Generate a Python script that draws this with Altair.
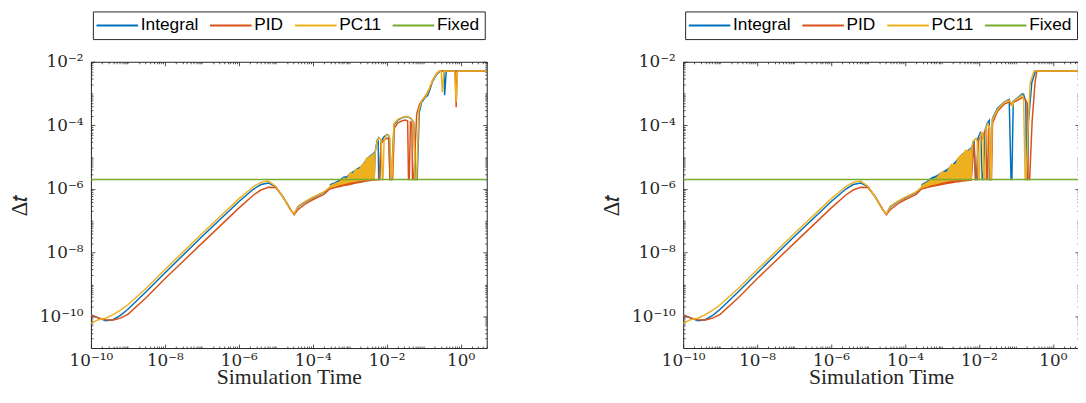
import altair as alt
import pandas as pd

SERIES = ["Integral", "PID", "PC11", "Fixed"]
COLORS = ["#0072BD", "#D95319", "#EDB120", "#77AC30"]

# ---- shared early part of the curves (both panels) ----
EARLY_T = [1e-10, 1.58e-10, 2.51e-10, 3.98e-10, 6.31e-10, 1e-9, 3.16e-9, 1e-8, 1e-7, 1e-6,
           2.51e-6, 3.98e-6, 6.31e-6, 1e-5, 1.58e-5, 2.51e-5, 3.16e-5, 3.98e-5, 6.31e-5, 1e-4, 2.0e-4]
EARLY_INTEGRAL = [1.12e-10, 8.9e-11, 7.2e-11, 7.8e-11, 1.07e-10, 1.66e-10, 6.0e-10, 2.3e-9, 3.16e-8, 3.98e-7,
                  1.0e-6, 1.38e-6, 1.55e-6, 1.17e-6, 5.6e-7, 2.24e-7, 1.62e-7, 2.75e-7, 3.98e-7, 5.25e-7, 7.8e-7]
EARLY_PID = [1.07e-10, 8.9e-11, 7.8e-11, 7.6e-11, 8.7e-11, 1.15e-10, 3.9e-10, 1.51e-9, 1.95e-8, 2.5e-7,
             6.5e-7, 9.3e-7, 1.13e-6, 1.12e-6, 5.6e-7, 2.24e-7, 1.55e-7, 2.24e-7, 3.4e-7, 4.6e-7, 6.8e-7]
EARLY_PC11 = [6.0e-11, 7.8e-11, 8.7e-11, 1.12e-10, 1.55e-10, 2.3e-10, 7.6e-10, 2.9e-9, 3.9e-8, 4.9e-7,
              1.2e-6, 1.62e-6, 1.78e-6, 1.22e-6, 5.6e-7, 2.14e-7, 1.66e-7, 2.88e-7, 4.1e-7, 5.5e-7, 8.1e-7]

# ---- left panel, late part ----
L_INTEGRAL_T = [2.9e-4, 4.0e-4, 5.4e-4, 6.9e-4, 1.0e-3, 1.45e-3, 2.09e-3, 2.8e-3, 4.6e-3, 4.9e-3, 5.5e-3, 5.9e-3,
                6.1e-3, 6.5e-3, 7.1e-3, 8.5e-3, 1.02e-2, 1.15e-2, 1.23e-2, 1.35e-2, 1.58e-2, 2.0e-2, 2.75e-2,
                3.5e-2, 4.5e-2, 5.4e-2, 6.1e-2, 6.7e-2, 7.6e-2, 8.9e-2, 0.112, 0.129, 0.145, 0.174, 0.224,
                0.28, 0.355, 0.37, 0.41, 5.1]
L_INTEGRAL_DT = [1.10e-6, 1.20e-6, 1.32e-6, 1.43e-6, 1.55e-6, 1.70e-6, 1.82e-6, 1.95e-6, 2.04e-6, 1.51e-5, 3.3e-5,
                 3.8e-5, 2.0e-6, 2.0e-6, 3.3e-5, 4.4e-5, 5.1e-5, 4.7e-5, 2.0e-6, 2.0e-6, 1.05e-4, 1.48e-4, 1.78e-4,
                 1.91e-4, 1.66e-4, 1.23e-4, 2.0e-6, 2.0e-6, 2.6e-4, 5.4e-4, 7.6e-4, 8.9e-4, 1.26e-3, 2.4e-3, 4.0e-3,
                 5.1e-3, 5.1e-3, 8.9e-4, 5.1e-3, 5.1e-3]
L_PID_T = [2.9e-4, 4.0e-4, 5.4e-4, 6.9e-4, 1.0e-3, 1.45e-3, 2.09e-3, 2.8e-3, 4.6e-3, 6.3e-3, 7.1e-3, 8.5e-3,
           1.02e-2, 1.15e-2, 1.23e-2, 1.45e-2, 1.62e-2, 2.0e-2, 2.75e-2, 3.3e-2, 3.7e-2, 3.9e-2, 4.1e-2, 4.4e-2,
           4.8e-2, 5.0e-2, 5.4e-2, 6.5e-2, 7.8e-2, 0.10, 0.12, 0.145, 0.174, 0.224, 0.27, 0.71, 0.76, 0.81, 5.1]
L_PID_DT = [1.0e-6, 1.12e-6, 1.20e-6, 1.29e-6, 1.38e-6, 1.55e-6, 1.66e-6, 1.78e-6, 1.91e-6, 1.97e-6, 2.7e-5, 3.5e-5,
            4.0e-5, 3.5e-5, 2.0e-6, 2.0e-6, 8.3e-5, 1.20e-4, 1.43e-4, 1.48e-4, 1.38e-4, 2.0e-6, 2.0e-6, 1.29e-4,
            1.20e-4, 2.0e-6, 2.0e-6, 2.3e-4, 4.7e-4, 7.1e-4, 9.5e-4, 1.45e-3, 2.57e-3, 4.3e-3, 5.1e-3, 5.1e-3,
            3.7e-4, 5.1e-3, 5.1e-3]
L_PC11_T = [2.9e-4, 4.0e-4, 5.4e-4, 6.9e-4, 1.0e-3, 1.45e-3, 2.09e-3, 2.8e-3, 4.6e-3, 4.9e-3, 5.5e-3, 6.3e-3,
            7.1e-3, 7.6e-3, 8.0e-3, 8.5e-3, 9.6e-3, 1.10e-2, 1.23e-2, 1.32e-2, 1.38e-2, 1.58e-2, 2.0e-2, 2.75e-2,
            3.5e-2, 4.5e-2, 5.4e-2, 5.9e-2, 6.5e-2, 7.4e-2, 8.9e-2, 0.112, 0.135, 0.174, 0.224, 0.27, 0.30, 0.32,
            0.355, 0.69, 0.76, 0.83, 5.1]
L_PC11_DT = [1.12e-6, 1.23e-6, 1.38e-6, 1.48e-6, 1.66e-6, 1.78e-6, 1.91e-6, 2.0e-6, 2.0e-6, 1.41e-5, 3.1e-5, 4.1e-5,
             3.5e-5, 2.0e-6, 2.0e-6, 3.1e-5, 4.7e-5, 5.1e-5, 4.1e-5, 2.0e-6, 2.0e-6, 1.12e-4, 1.55e-4, 1.82e-4,
             1.95e-4, 1.70e-4, 1.29e-4, 2.0e-6, 2.0e-6, 3.0e-4, 6.2e-4, 7.9e-4, 1.26e-3, 2.57e-3, 4.3e-3, 5.1e-3,
             5.1e-3, 1.1e-3, 5.1e-3, 5.1e-3, 5.4e-4, 5.1e-3, 5.1e-3]

# dense oscillation band (envelopes), left panel
L_BAND_T = [2.9e-4, 4.0e-4, 5.4e-4, 6.9e-4, 8.3e-4, 1.0e-3, 1.2e-3, 1.45e-3, 1.74e-3, 2.09e-3, 2.5e-3, 2.8e-3,
            3.4e-3, 4.1e-3, 4.6e-3]
L_INTEGRAL_LO = [1.10e-6, 1.20e-6, 1.32e-6, 1.43e-6, 1.48e-6, 1.55e-6, 1.66e-6, 1.70e-6, 1.78e-6, 1.82e-6, 1.91e-6,
                 1.95e-6, 1.97e-6, 2.0e-6, 2.04e-6]
L_INTEGRAL_HI = [1.43e-6, 1.66e-6, 2.04e-6, 2.51e-6, 2.51e-6, 3.16e-6, 3.6e-6, 4.2e-6, 4.8e-6, 5.5e-6, 7.4e-6,
                 9.1e-6, 1.12e-5, 1.32e-5, 1.51e-5]
L_PID_LO = [1.0e-6, 1.12e-6, 1.20e-6, 1.29e-6, 1.32e-6, 1.38e-6, 1.43e-6, 1.55e-6, 1.58e-6, 1.66e-6, 1.70e-6,
            1.78e-6, 1.82e-6, 1.91e-6, 1.91e-6]
L_PID_HI = [1.15e-6, 1.32e-6, 1.66e-6, 1.91e-6, 2.04e-6, 2.51e-6, 2.7e-6, 3.4e-6, 3.6e-6, 4.5e-6, 5.5e-6, 6.9e-6,
            8.5e-6, 9.8e-6, 1.05e-5]
L_PC11_LO = [1.12e-6, 1.23e-6, 1.38e-6, 1.48e-6, 1.55e-6, 1.66e-6, 1.70e-6, 1.78e-6, 1.82e-6, 1.91e-6, 1.97e-6,
             2.0e-6, 2.0e-6, 2.0e-6, 2.0e-6]
L_PC11_HI = [1.32e-6, 1.55e-6, 1.78e-6, 2.34e-6, 2.19e-6, 3.4e-6, 3.16e-6, 4.5e-6, 4.2e-6, 6.0e-6, 6.9e-6, 9.8e-6,
             1.05e-5, 1.23e-5, 1.41e-5]

# ---- right panel, late part ----
R_INTEGRAL_T = [2.8e-4, 3.9e-4, 5.2e-4, 7.1e-4, 9.8e-4, 1.32e-3, 1.78e-3, 2.29e-3, 2.75e-3, 3.5e-3, 6.2e-3, 6.5e-3,
                7.4e-3, 8.1e-3, 8.9e-3, 9.3e-3, 1.12e-2, 1.23e-2, 1.32e-2, 1.48e-2, 1.70e-2, 1.91e-2, 1.95e-2,
                2.09e-2, 2.34e-2, 3.2e-2, 4.9e-2, 6.6e-2, 7.4e-2, 7.8e-2, 8.5e-2, 0.123, 0.148, 0.162, 0.186,
                0.195, 0.204, 0.219, 0.27, 0.34, 5.1]
R_INTEGRAL_DT = [1.10e-6, 1.20e-6, 1.32e-6, 1.43e-6, 1.55e-6, 1.66e-6, 1.78e-6, 1.82e-6, 1.91e-6, 1.97e-6, 2.0e-6,
                 2.1e-5, 3.5e-5, 2.0e-6, 2.0e-6, 3.8e-5, 6.3e-5, 2.0e-6, 2.0e-6, 7.2e-5, 1.20e-4, 1.43e-4, 2.0e-6,
                 2.0e-6, 1.70e-4, 3.5e-4, 5.5e-4, 6.6e-4, 2.0e-6, 2.0e-6, 5.8e-4, 8.1e-4, 9.8e-4, 9.5e-4, 5.4e-4,
                 2.0e-6, 2.0e-6, 1.29e-4, 2.24e-3, 5.1e-3, 5.1e-3]
R_PID_T = [2.8e-4, 3.9e-4, 5.2e-4, 7.1e-4, 9.8e-4, 1.32e-3, 1.78e-3, 2.29e-3, 2.75e-3, 3.5e-3, 4.3e-3, 6.2e-3,
           7.4e-3, 8.1e-3, 8.5e-3, 9.8e-3, 1.12e-2, 1.29e-2, 1.41e-2, 1.55e-2, 1.62e-2, 1.72e-2, 1.82e-2, 1.95e-2,
           2.05e-2, 2.19e-2, 2.34e-2, 3.2e-2, 4.9e-2, 6.6e-2, 7.6e-2, 8.9e-2, 0.123, 0.148, 0.178, 0.204, 0.214,
           0.236, 0.275, 0.33, 0.37, 5.1]
R_PID_DT = [1.0e-6, 1.12e-6, 1.20e-6, 1.29e-6, 1.38e-6, 1.48e-6, 1.58e-6, 1.66e-6, 1.70e-6, 1.78e-6, 1.82e-6, 1.91e-6,
            2.7e-5, 2.0e-6, 2.0e-6, 3.3e-5, 4.4e-5, 3.8e-5, 6.3e-5, 7.2e-5, 2.0e-6, 2.0e-6, 7.8e-5, 8.3e-5, 2.0e-6,
            2.0e-6, 1.20e-4, 2.8e-4, 4.7e-4, 5.5e-4, 4.4e-4, 5.4e-4, 6.6e-4, 7.6e-4, 6.6e-4, 5.0e-4, 2.0e-6,
            2.0e-6, 1.29e-4, 2.24e-3, 5.1e-3, 5.1e-3]
R_PC11_T = [2.8e-4, 3.9e-4, 5.2e-4, 7.1e-4, 9.8e-4, 1.32e-3, 1.78e-3, 2.29e-3, 2.75e-3, 6.2e-3, 6.5e-3, 6.9e-3,
            8.3e-3, 9.1e-3, 9.8e-3, 1.03e-2, 1.10e-2, 1.20e-2, 1.29e-2, 1.35e-2, 1.45e-2, 1.55e-2, 1.74e-2, 1.91e-2,
            2.04e-2, 2.14e-2, 2.29e-2, 3.2e-2, 4.9e-2, 6.6e-2, 7.6e-2, 8.1e-2, 8.9e-2, 0.123, 0.148, 0.162, 0.178,
            0.19, 0.214, 0.245, 0.31, 5.1]
R_PC11_DT = [1.12e-6, 1.23e-6, 1.38e-6, 1.48e-6, 1.66e-6, 1.78e-6, 1.91e-6, 1.97e-6, 2.0e-6, 2.0e-6, 2.0e-5, 3.1e-5,
             3.9e-5, 3.1e-5, 2.0e-6, 2.0e-6, 5.1e-5, 5.9e-5, 4.7e-5, 2.0e-6, 2.0e-6, 8.3e-5, 1.12e-4, 9.5e-5,
             2.0e-6, 2.0e-6, 1.48e-4, 3.2e-4, 5.4e-4, 6.2e-4, 5.0e-4, 4.0e-4, 6.0e-4, 7.6e-4, 8.9e-4, 7.1e-4,
             2.0e-6, 2.0e-6, 8.9e-5, 2.24e-3, 5.1e-3, 5.1e-3]

R_BAND_T = [2.8e-4, 3.9e-4, 5.2e-4, 7.1e-4, 9.8e-4, 1.32e-3, 1.78e-3, 2.29e-3, 2.75e-3, 3.5e-3, 4.3e-3, 5.1e-3, 6.2e-3]
R_INTEGRAL_LO = [1.10e-6, 1.20e-6, 1.32e-6, 1.43e-6, 1.55e-6, 1.66e-6, 1.78e-6, 1.82e-6, 1.91e-6, 1.97e-6, 2.0e-6,
                 2.0e-6, 2.0e-6]
R_INTEGRAL_HI = [1.43e-6, 1.78e-6, 2.34e-6, 2.7e-6, 3.4e-6, 4.2e-6, 5.5e-6, 7.4e-6, 9.8e-6, 1.32e-5, 1.51e-5,
                 1.74e-5, 2.1e-5]
R_PID_LO = [1.0e-6, 1.12e-6, 1.20e-6, 1.29e-6, 1.38e-6, 1.48e-6, 1.58e-6, 1.66e-6, 1.70e-6, 1.78e-6, 1.82e-6,
            1.91e-6, 1.91e-6]
R_PID_HI = [1.15e-6, 1.43e-6, 1.78e-6, 2.04e-6, 2.7e-6, 2.92e-6, 4.5e-6, 4.8e-6, 7.4e-6, 9.1e-6, 1.32e-5, 1.32e-5,
            1.51e-5]
R_PC11_LO = [1.12e-6, 1.23e-6, 1.38e-6, 1.48e-6, 1.66e-6, 1.78e-6, 1.91e-6, 1.97e-6, 2.0e-6, 2.0e-6, 2.0e-6, 2.0e-6,
             2.0e-6]
R_PC11_HI = [1.32e-6, 1.66e-6, 2.04e-6, 2.34e-6, 3.6e-6, 3.4e-6, 6.4e-6, 6.0e-6, 1.05e-5, 1.23e-5, 1.74e-5, 1.62e-5,
             2.0e-5]

FIXED_T = [1e-10, 5.1]
FIXED_DT = [2.0e-6, 2.0e-6]

X_DOMAIN = [1e-10, 5.1]
Y_DOMAIN = [1e-11, 1e-2]
X_MAJOR = [1e-10, 1e-8, 1e-6, 1e-4, 1e-2, 1.0]
X_MAJOR_LABELS = ["10⁻¹⁰", "10⁻⁸", "10⁻⁶", "10⁻⁴", "10⁻²", "10⁰"]
Y_MAJOR = [1e-10, 1e-8, 1e-6, 1e-4, 1e-2]
Y_MAJOR_LABELS = ["10⁻¹⁰", "10⁻⁸", "10⁻⁶", "10⁻⁴", "10⁻²"]

X_MINOR = [k * 10.0 ** e for e in range(-10, 1) for k in range(1, 10)
           if not (k == 1 and e % 2 == 0) and k * 10.0 ** e <= X_DOMAIN[1]]
Y_MINOR = [k * 10.0 ** e for e in range(-11, -2) for k in range(1, 10)
           if not (k == 1 and e % 2 == 0) and Y_DOMAIN[0] * 1.01 < k * 10.0 ** e < Y_DOMAIN[1] * 0.99]

INK = "#262626"
SERIF = "Liberation Serif"
TICKFONT = "DejaVu Serif"
W, H = 401, 290
MAJ, MIN = 4, 2

XS = alt.Scale(type="log", domain=X_DOMAIN, nice=False)
YS = alt.Scale(type="log", domain=Y_DOMAIN, nice=False)
CS = alt.Scale(domain=SERIES, range=COLORS)
LEGEND = alt.Legend(title=None, orient="none", legendX=2, legendY=-51, direction="horizontal",
                    symbolType="M-5,0L5,0", symbolSize=71, symbolStrokeWidth=2, symbolOffset=11,
                    labelFont="Liberation Sans", labelFontSize=17.5, labelColor="black", labelOffset=15,
                    columnPadding=7, padding=5, strokeColor=INK, fillColor="white", rowPadding=0)


def lab_expr(vals, labels):
    parts = [f"abs(datum.value / {v!r} - 1) < 0.001 ? '{l}'" for v, l in zip(vals, labels)]
    return " : ".join(parts) + " : ''"


def make_axis(orient, values, size, labels=None, pad=4, title_pad=None, title_size=22):
    kw = dict(orient=orient, values=values, tickSize=size, offset=-size, domain=False, grid=False,
              tickColor=INK, tickWidth=0.8, labelOverlap=False, labelFlush=False)
    if labels is None:
        kw["labels"] = False
    else:
        kw.update(labelExpr=lab_expr(values, labels), labelFont=TICKFONT, labelFontSize=17,
                  labelColor=INK, labelPadding=pad)
    if title_pad is not None:
        kw.update(titleFont=SERIF, titleFontSize=title_size, titleFontWeight="normal", titleColor=INK,
                  titlePadding=title_pad)
    return alt.Axis(**kw)


AXES = [
    (make_axis("bottom", X_MAJOR, MAJ, X_MAJOR_LABELS, pad=5, title_pad=-2, title_size=22),
     make_axis("left", Y_MAJOR, MAJ, Y_MAJOR_LABELS, pad=8, title_pad=8, title_size=23)),
    (make_axis("bottom", X_MINOR, MIN), make_axis("left", Y_MINOR, MIN)),
    (make_axis("top", X_MAJOR, MAJ), make_axis("right", Y_MAJOR, MAJ)),
    (make_axis("top", X_MINOR, MIN), make_axis("right", Y_MINOR, MIN)),
]


def panel(lines, bands):
    layers = []
    ax_i = 0

    def enc_xy(ycol):
        nonlocal ax_i
        if ax_i < len(AXES):
            xa, ya = AXES[ax_i]
            xt = "Simulation Time" if ax_i == 0 else None
            yt = "Δ𝑡" if ax_i == 0 else None
        else:
            xa, ya, xt, yt = None, None, None, None
        ax_i += 1
        x = alt.X("t:Q", scale=XS, axis=xa, title=xt)
        y = alt.Y(f"{ycol}:Q", scale=YS, axis=ya, title=yt)
        return x, y

    for name, color in zip(SERIES, COLORS):
        if name in bands:
            bt, lo, hi = bands[name]
            bdf = pd.DataFrame({"t": bt, "lo": lo, "hi": hi})
            x, y = enc_xy("lo")
            layers.append(alt.Chart(bdf).mark_area(color=color, opacity=1, clip=True, interpolate="linear")
                          .encode(x=x, y=y, y2="hi:Q"))
        ts, dts = lines[name]
        ldf = pd.DataFrame({"t": ts, "dt": dts, "series": name, "i": list(range(len(ts)))})
        x, y = enc_xy("dt")
        layers.append(alt.Chart(ldf).mark_line(strokeWidth=1.5, clip=True)
                      .encode(x=x, y=y, order=alt.Order("i:Q"),
                              color=alt.Color("series:N", scale=CS, legend=LEGEND)))
    return (alt.layer(*layers).properties(width=W, height=H)
            .resolve_axis(x="independent", y="independent"))


left = panel(
    {"Integral": (EARLY_T + L_INTEGRAL_T, EARLY_INTEGRAL + L_INTEGRAL_DT),
     "PID": (EARLY_T + L_PID_T, EARLY_PID + L_PID_DT),
     "PC11": (EARLY_T + L_PC11_T, EARLY_PC11 + L_PC11_DT),
     "Fixed": (FIXED_T, FIXED_DT)},
    {"Integral": (L_BAND_T, L_INTEGRAL_LO, L_INTEGRAL_HI),
     "PID": (L_BAND_T, L_PID_LO, L_PID_HI),
     "PC11": (L_BAND_T, L_PC11_LO, L_PC11_HI)})

right = panel(
    {"Integral": (EARLY_T + R_INTEGRAL_T, EARLY_INTEGRAL + R_INTEGRAL_DT),
     "PID": (EARLY_T + R_PID_T, EARLY_PID + R_PID_DT),
     "PC11": (EARLY_T + R_PC11_T, EARLY_PC11 + R_PC11_DT),
     "Fixed": (FIXED_T, FIXED_DT)},
    {"Integral": (R_BAND_T, R_INTEGRAL_LO, R_INTEGRAL_HI),
     "PID": (R_BAND_T, R_PID_LO, R_PID_HI),
     "PC11": (R_BAND_T, R_PC11_LO, R_PC11_HI)})

chart = (alt.hconcat(left, right, spacing=199, bounds="flush")
         .resolve_legend(color="independent")
         .properties(padding={"left": 0, "top": 0, "right": -2, "bottom": -1})
         .configure_view(stroke=INK, strokeWidth=1))

chart.save("out.html", embed_options={"renderer": "svg", "actions": False})
